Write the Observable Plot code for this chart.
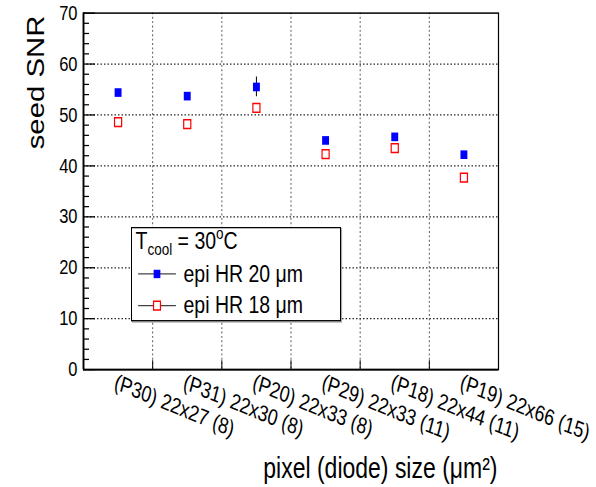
<!DOCTYPE html>
<html><head><meta charset="utf-8">
<script src="https://cdn.jsdelivr.net/npm/d3@7"></script>
<script src="https://cdn.jsdelivr.net/npm/@observablehq/plot@0.6"></script>
<style>body{margin:0;background:#fff;}</style>
</head><body><div id="chart"></div>
<script>
const categories = ["(P30) 22x27 (8)", "(P31) 22x30 (8)", "(P20) 22x33 (8)", "(P29) 22x33 (11)", "(P18) 22x44 (11)", "(P19) 22x66 (15)"];
const blueValues = [54.4, 53.7, 55.5, 45.0, 45.7, 42.2];
const blueErrors = [0.5, 0.5, 1.95, 0.5, 0.5, 0.5];
const redValues = [48.6, 48.2, 51.4, 42.3, 43.5, 37.7];
const yTicks = [0, 10, 20, 30, 40, 50, 60, 70];
const yMinorTicks = d3.range(0, 71, 2).filter(v => v % 10 !== 0);
const seriesNames = ["epi HR 20 μm", "epi HR 18 μm"];
const legendTitle = "Tcool = 30°C";
const yTitle = "seed SNR";
const xTitle = "pixel (diode) size (μm²)";

const W = 596, H = 487, H0 = 390;
const mL = 83, mR = 98, mT = 10, mB = 94.5;
const plotW = W - mL - mR, plotH = H0 - mT - mB;

const rows = categories.map((c, i) => ({
  cat: c, pos: i + 0.5,
  blue: blueValues[i], blueErr: blueErrors[i],
  red: redValues[i]
}));
const boundaries = categories.slice(1).map((c, i) => i + 1);

const lineShape = {draw(ctx, l) { ctx.moveTo(0, 0); ctx.lineTo(0, -l); }};

const legendRow1 = 208.9, legendRow2 = 234.3, legendSampleX = 73.5;

const plot = Plot.plot({
  width: W, height: H0,
  marginLeft: mL, marginRight: mR, marginTop: mT, marginBottom: mB,
  style: {fontFamily: "'Liberation Sans', Arial, Helvetica, sans-serif", background: "white", color: "black"},
  x: {domain: [0, categories.length], axis: null},
  y: {domain: [0, 70], axis: null},
  marks: [
    // grid
    Plot.ruleY(yTicks.filter(v => v > 0 && v < 70), {stroke: "#000", strokeDasharray: "1.5,2", strokeOpacity: 0.85}),
    Plot.ruleX(boundaries, {stroke: "#555", strokeDasharray: "1.5,2"}),
    // error bars
    Plot.ruleX(rows, {x: "pos", y1: d => d.blue - d.blueErr, y2: d => d.blue + d.blueErr, stroke: "#000"}),
    // markers
    Plot.dot(rows, {x: "pos", y: "blue", symbol: "square", r: 3.9, fill: "#0000ff", stroke: "none"}),
    Plot.dot(rows, {x: "pos", y: "red", symbol: "square", r: 4.0, fill: "none", stroke: "#ff0000", strokeWidth: 1.2}),
    // frame
    Plot.frame({stroke: "#000", strokeWidth: 1.2}),
    Plot.ruleX([0], {stroke: "#000", strokeWidth: 1.8}),
    Plot.ruleY([0], {stroke: "#000", strokeWidth: 1.4}),
    // ticks inside
    Plot.ruleY(yTicks, {stroke: "#000", insetRight: plotW - 12}),
    Plot.ruleY(yMinorTicks, {stroke: "#000", insetRight: plotW - 6}),
    Plot.ruleX(boundaries, {stroke: "#000", insetTop: plotH - 7}),
    // legend
    Plot.frame({stroke: "#aaa", strokeWidth: 1.2, insetLeft: 49, insetRight: 157, insetTop: 172.8, insetBottom: 38.2}),
    Plot.frame({fill: "white", stroke: "#000", strokeWidth: 1, insetLeft: 48, insetRight: 158, insetTop: 171.8, insetBottom: 39.2}),
    Plot.text([legendTitle], {frameAnchor: "top-left", dx: 52, dy: 188.6, textAnchor: "start", lineAnchor: "bottom", fontSize: 19.5}),
    Plot.vector([0], {frameAnchor: "top-left", dx: legendSampleX, dy: legendRow1, length: 37, rotate: 90, anchor: "middle", stroke: "#444", strokeWidth: 1, shape: lineShape}),
    Plot.vector([0], {frameAnchor: "top-left", dx: legendSampleX, dy: legendRow2, length: 37, rotate: 90, anchor: "middle", stroke: "#444", strokeWidth: 1, shape: lineShape}),
    Plot.dot([0], {frameAnchor: "top-left", dx: legendSampleX, dy: legendRow1, symbol: "square", r: 3.8, fill: "#0000ff", stroke: "none"}),
    Plot.dot([0], {frameAnchor: "top-left", dx: legendSampleX, dy: legendRow2, symbol: "square", r: 3.9, fill: "white", stroke: "#ff0000", strokeWidth: 1.2}),
    Plot.text([seriesNames[0]], {frameAnchor: "top-left", dx: 100, dy: legendRow1, textAnchor: "start", lineAnchor: "middle", fontSize: 19.5}),
    Plot.text([seriesNames[1]], {frameAnchor: "top-left", dx: 100, dy: legendRow2, textAnchor: "start", lineAnchor: "middle", fontSize: 19.5}),
    // axis labels
    Plot.axisY({ticks: yTicks, tickSize: 0, tickPadding: 6, fontSize: 16.5, label: null}),
    Plot.text(rows, {x: "pos", text: "cat", frameAnchor: "bottom", textAnchor: "start", lineAnchor: "top", rotate: 18, dx: -1, dy: 3, fontSize: 18}),
    Plot.text([yTitle], {frameAnchor: "top-left", rotate: -90, textAnchor: "end", lineAnchor: "bottom", dx: -40, dy: 2, fontSize: 23.5}),
    Plot.text([xTitle], {frameAnchor: "bottom-right", textAnchor: "end", lineAnchor: "bottom", dx: -1, dy: 86.5, fontSize: 23})
  ]
});

// rich text for the legend header
plot.querySelectorAll("text").forEach(t => {
  if (t.textContent === legendTitle) {
    t.textContent = "";
    const ns = "http://www.w3.org/2000/svg";
    const parts = [["T", null, null], ["cool", 13.5, 5], [" = 30", null, -5], ["o", 13.5, -8], ["C", null, 8]];
    for (const [s, fs, dy] of parts) {
      const ts = document.createElementNS(ns, "tspan");
      ts.textContent = s;
      if (fs) ts.setAttribute("font-size", fs);
      if (dy) ts.setAttribute("dy", dy);
      t.appendChild(ts);
    }
  }
});

plot.setAttribute("viewBox", `0 0 ${W} ${H0}`);
plot.setAttribute("width", W);
plot.setAttribute("height", H);
plot.setAttribute("preserveAspectRatio", "none");
plot.style.width = W + "px";
plot.style.height = H + "px";
plot.style.maxWidth = "none";
document.getElementById("chart").appendChild(plot);
</script>
</body></html>
